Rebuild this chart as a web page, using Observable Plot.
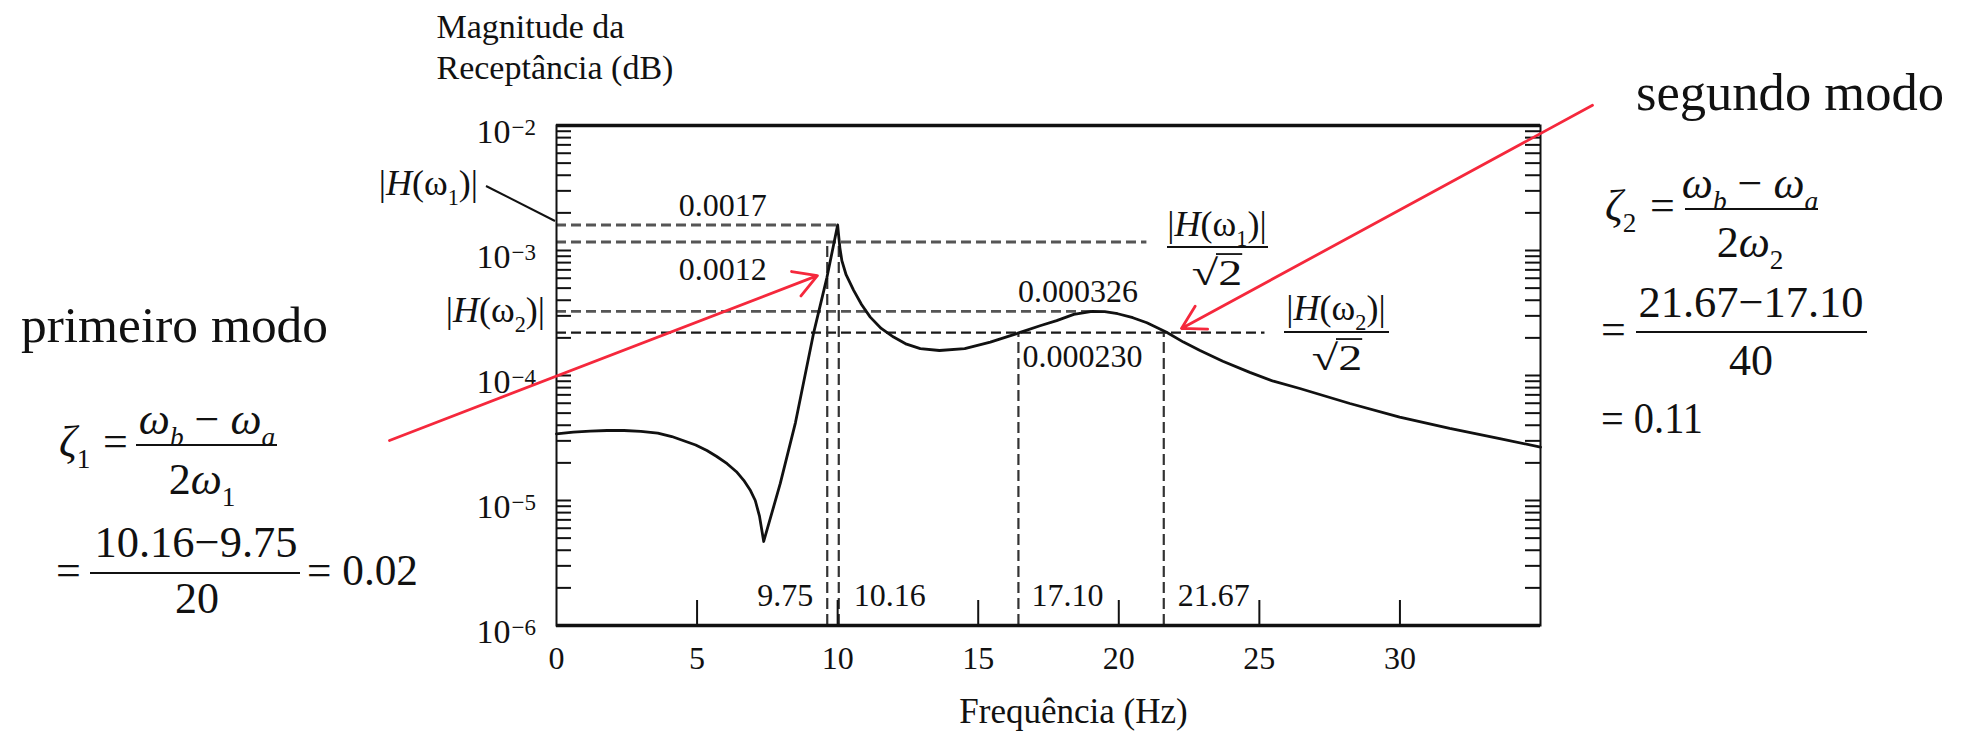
<!DOCTYPE html>
<html><head><meta charset="utf-8">
<script src="https://cdn.jsdelivr.net/npm/d3@7"></script>
<script src="https://cdn.jsdelivr.net/npm/@observablehq/plot@0.6"></script>
<style>
html,body{margin:0;padding:0;background:#fff;}
#chart{width:1968px;height:731px;overflow:hidden;}
#chart text{font-family:'Liberation Serif','Times New Roman',serif;}
</style></head><body><div id="chart"></div>
<script>
// ---------- data ----------
const freqHz = [0,0.6,1.2,1.8,2.4,3.0,3.6,4.1,4.5,4.95,5.35,5.7,6.07,6.4,6.66,6.9,7.07,7.22,7.37,7.96,8.5,9.14,9.62,10.0,10.03,10.08,10.15,10.3,10.57,10.85,11.16,11.55,11.99,12.45,12.94,13.62,14.52,15.43,16.52,17.2,17.79,18.4,19.05,19.5,19.96,20.5,21.0,21.7,22.3,22.89,23.7,24.66,25.5,26.44,28.22,29.99,31.77,33.55,35];
const receptance = [3.41e-5,3.52e-5,3.59e-5,3.63e-5,3.63e-5,3.57e-5,3.46e-5,3.25e-5,3.02e-5,2.78e-5,2.51e-5,2.25e-5,1.97e-5,1.7e-5,1.45e-5,1.2e-5,1.0e-5,7.5e-6,4.7e-6,1.37e-5,4.2e-5,2.16e-4,6.1e-4,1.6e-3,1.36e-3,1.05e-3,8.3e-4,6.4e-4,4.8e-4,3.7e-4,2.93e-4,2.38e-4,2.03e-4,1.78e-4,1.64e-4,1.585e-4,1.64e-4,1.85e-4,2.22e-4,2.5e-4,2.75e-4,3.08e-4,3.26e-4,3.24e-4,3.12e-4,2.9e-4,2.64e-4,2.22e-4,1.85e-4,1.585e-4,1.3e-4,1.06e-4,9.0e-5,7.87e-5,5.97e-5,4.64e-5,3.77e-5,3.13e-5,2.67e-5];

const xTickValues = [0,5,10,15,20,25,30];
const decadeValues = [1e-6,1e-5,1e-4,1e-3,1e-2];
const decadeExponents = ["−6","−5","−4","−3","−2"];

// horizontal reference levels (peak and half-power levels)
const levelValues = [0.0016, 0.00117, 0.000326, 0.00022];
const levelEndHz = [10.0, 21.0, 19.05, 25.2];
const levelLabels = ["0.0017","0.0012","0.000326","0.000230"];

// vertical half-power frequencies
const halfPowerHz = [9.63, 10.04, 16.43, 21.6];
const halfPowerTop = [0.00117, 0.00117, 0.00022, 0.00022];
const halfPowerLabels = ["9.75","10.16","17.10","21.67"];

// red arrows (tail -> tip)
const arrowTailHz = [-5.94, 36.85];
const arrowTailVal = [3.02e-5, 0.0145];
const arrowTipHz = [9.28, 22.23];
const arrowTipVal = [6.3e-4, 2.38e-4];

// ---------- build tables ----------
const curve = freqHz.map((f,i)=>({f, v: receptance[i]}));
const levels = levelValues.map((v,i)=>({v, end: levelEndHz[i], label: levelLabels[i], i}));
const halfPower = halfPowerHz.map((f,i)=>({f, top: halfPowerTop[i], label: halfPowerLabels[i]}));
const arrows = arrowTailHz.map((x,i)=>({x1: x, y1: arrowTailVal[i], x2: arrowTipHz[i], y2: arrowTipVal[i]}));
const decades = decadeValues.map((v,i)=>({v, e: decadeExponents[i]}));

const FONT = "'Liberation Serif', 'Times New Roman', serif";
const INK = "#111";
const W = 1968, H = 731, ML = 556, MR = 428, MT = 125, MB = 106;
const FW = W - ML - MR, FH = H - MT - MB;
const yMinor = d3.scaleLog().domain([1e-6,1e-2]).ticks();
const xMajor = xTickValues.filter(d => d > 0);

// label placement (offsets in px)
const levelLabelPlace = [
  {anchor:"end", dx:-71, dy:-9},
  {anchor:"end", dx:-71, dy:38},
  {anchor:"middle", dx:-14, dy:-9},
  {anchor:"start", dx:4, dy:34}
];
const levelLabelX = [10.0, 10.0, 19.05, 16.43];
const hpPlace = [
  {anchor:"end", dx:-14},
  {anchor:"start", dx:15},
  {anchor:"start", dx:13},
  {anchor:"start", dx:14}
];

const marks = [
  Plot.ruleY(levels.filter(d => d.i < 3), {y:"v", x1:0, x2:"end", stroke:"#555", strokeWidth:2.8, strokeDasharray:"10,5"}),
  Plot.ruleY(levels.filter(d => d.i === 3), {y:"v", x1:0, x2:"end", stroke:"#1a1a1a", strokeWidth:2.2, strokeDasharray:"10,5"}),
  Plot.ruleX(halfPower, {x:"f", y1:1e-6, y2:"top", stroke:"#333", strokeWidth:2.2, strokeDasharray:"11,5"}),
  Plot.line(curve, {x:"f", y:"v", stroke:INK, strokeWidth:2.8}),
  Plot.frame({stroke:INK, strokeWidth:2}),
  Plot.ruleY([1e-2, 1e-6], {stroke:INK, strokeWidth:3.5}),
  Plot.tickY(yMinor, {y:d=>d, stroke:INK, strokeWidth:2, insetRight: FW - 15}),
  Plot.tickY(yMinor, {y:d=>d, stroke:INK, strokeWidth:2, insetLeft: FW - 15}),
  Plot.tickX(xMajor, {x:d=>d, stroke:INK, strokeWidth:2, insetTop: FH - 25}),
  Plot.text(xTickValues, {x:d=>d, frameAnchor:"bottom", text:d=>String(d), lineAnchor:"bottom", dy:43, fontSize:32, fill:INK}),
  Plot.text(decades, {y:"v", frameAnchor:"left", text:()=>"10", textAnchor:"end", lineAnchor:"middle", dx:-46, dy:7, fontSize:34, fill:INK}),
  Plot.text(decades, {y:"v", frameAnchor:"left", text:"e", textAnchor:"start", lineAnchor:"middle", dx:-45, dy:2, fontSize:23, fill:INK}),
  ...levels.map((d,i)=>Plot.text([d], {x:()=>levelLabelX[i], y:"v", text:"label", textAnchor:levelLabelPlace[i].anchor, lineAnchor:"bottom", dx:levelLabelPlace[i].dx, dy:levelLabelPlace[i].dy, fontSize:32, fill:INK})),
  ...halfPower.map((d,i)=>Plot.text([d], {x:"f", frameAnchor:"bottom", text:"label", textAnchor:hpPlace[i].anchor, lineAnchor:"bottom", dx:hpPlace[i].dx, dy:-20, fontSize:32, fill:INK})),
  Plot.text(["Frequência (Hz)"], {frameAnchor:"bottom", text:d=>d, lineAnchor:"bottom", dx:25, dy:97, fontSize:35, fill:INK}),
  Plot.text(["Magnitude da\nReceptância (dB)"], {frameAnchor:"top-left", text:d=>d, textAnchor:"start", lineAnchor:"bottom", dx:-120, dy:-47, fontSize:34, lineHeight:1.2, fill:INK}),
  Plot.arrow(arrows, {x1:"x1", y1:"y1", x2:"x2", y2:"y2", stroke:"#f5283c", strokeWidth:2.8, headLength:14, headAngle:60})
];

const svg = Plot.plot({
  width: W, height: H,
  marginLeft: ML, marginRight: MR, marginTop: MT, marginBottom: MB,
  x: {domain:[0,35], axis:null},
  y: {type:"log", domain:[1e-6,1e-2], axis:null},
  style: {fontFamily: FONT, fontSize:"32px", color: INK, background:"#fff"},
  marks
});

// ---------- formula / label annotations ----------
const g = d3.select(svg).append("g").attr("fill", INK);
function rich(x, y, parts, o = {}) {
  const size = o.size || 44;
  const t = g.append("text").attr("x", x).attr("y", y).attr("font-size", size)
    .attr("font-family", FONT).style("font-family", FONT)
    .attr("text-anchor", o.anchor || "start");
  let shift = 0;
  for (const p of parts) {
    const [s, st] = Array.isArray(p) ? p : [p, ""];
    const sp = t.append("tspan").text(s);
    const sub = st.includes("s");
    const ns = sub ? size * 0.28 : 0;
    if (ns !== shift) { sp.attr("dy", ns - shift); shift = ns; }
    if (sub) sp.attr("font-size", size * 0.62);
    if (st.includes("i")) sp.attr("font-style", "italic");
  }
  if (o.width) t.attr("textLength", o.width).attr("lengthAdjust", "spacingAndGlyphs");
  return t;
}
function bar(x1, x2, y, w = 2.2) {
  g.append("line").attr("x1", x1).attr("x2", x2).attr("y1", y).attr("y2", y)
    .attr("stroke", INK).attr("stroke-width", w);
}
function sqrt2(cx, base, size) {
  rich(cx, base, ["√2"], {size, anchor:"middle", width: size*1.4});
  bar(cx - 1, cx + size*0.7, base - size*0.86, 1.8);
}
const Hw = n => ["|", ["H","i"], "(ω", [n,"s"], ")|"];

// left side
rich(478, 195, Hw("1"), {size:36, anchor:"end"});
g.append("line").attr("x1",486).attr("y1",186).attr("x2",555).attr("y2",221).attr("stroke",INK).attr("stroke-width",2);
rich(545, 322, Hw("2"), {size:36, anchor:"end"});
rich(21, 342, ["primeiro modo"], {size:50, width:307});
rich(59, 456, [["ζ","i"],["1","s"]]);
rich(103, 456, ["="]);
rich(207, 434, [["ω","i"],["b","is"]," − ",["ω","i"],["a","is"]], {anchor:"middle"});
bar(136, 277, 445);
rich(202, 494, ["2",["ω","i"],["1","s"]], {anchor:"middle"});
rich(56, 585, ["="]);
rich(196, 557, ["10.16−9.75"], {anchor:"middle", width:203});
bar(90, 300, 573);
rich(197, 613, ["20"], {anchor:"middle"});
rich(307, 585, ["= 0.02"], {width:111});

// right side
rich(1636, 110, ["segundo modo"], {size:52, width:308});
rich(1605, 220, [["ζ","i"],["2","s"]]);
rich(1650, 220, ["="]);
rich(1750, 198, [["ω","i"],["b","is"]," − ",["ω","i"],["a","is"]], {anchor:"middle"});
bar(1685, 1818, 209);
rich(1750, 257, ["2",["ω","i"],["2","s"]], {anchor:"middle"});
rich(1601, 344, ["="]);
rich(1751, 317, ["21.67−17.10"], {anchor:"middle", width:225});
bar(1636, 1867, 332);
rich(1751, 375, ["40"], {anchor:"middle"});
rich(1601, 433, ["= 0.11"], {width:102});

// in-plot fractions
rich(1217, 236, Hw("1"), {size:36, anchor:"middle"});
bar(1167, 1268, 247);
sqrt2(1217, 285, 36);
rich(1336, 320, Hw("2"), {size:36, anchor:"middle"});
bar(1284, 1389, 332);
sqrt2(1337, 370, 36);

document.getElementById("chart").appendChild(svg);
</script>
</body></html>
